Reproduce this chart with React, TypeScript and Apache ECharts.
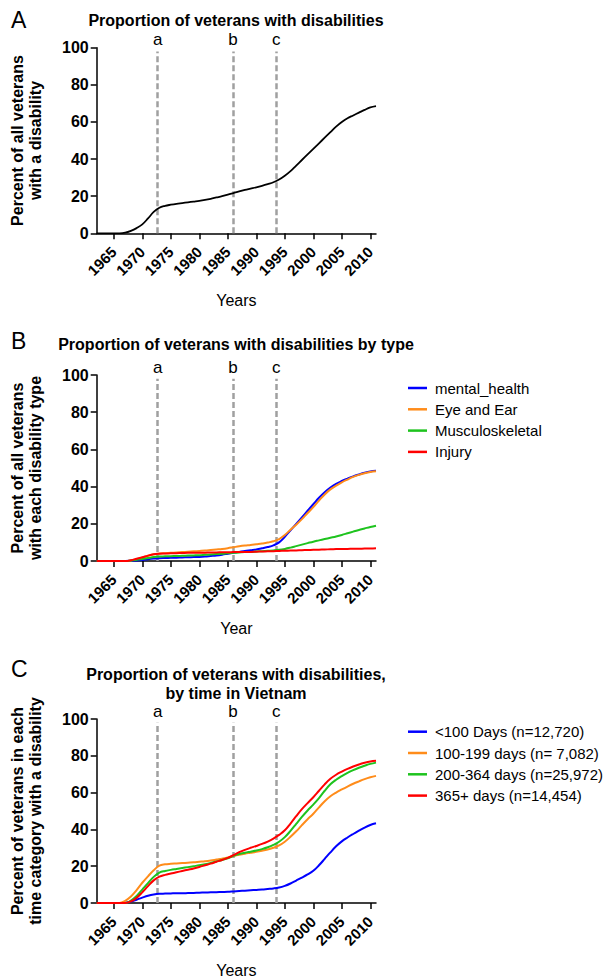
import React, { useEffect, useRef } from "react";
import * as echarts from "echarts";

const YEARS = [
  1962, 1963, 1964, 1965, 1966, 1967, 1968, 1969, 1970, 1971,
  1972, 1973, 1974, 1975, 1976, 1977, 1978, 1979, 1980, 1981,
  1982, 1983, 1984, 1985, 1986, 1987, 1988, 1989, 1990, 1991,
  1992, 1993, 1994, 1995, 1996, 1997, 1998, 1999, 2000, 2001,
  2002, 2003, 2004, 2005, 2006, 2007, 2008, 2009, 2010, 2011,
];
const TICK_YEARS = [1965, 1970, 1975, 1980, 1985, 1990, 1995, 2000, 2005, 2010];
const EVENT_YEARS = [1972.7, 1985.9, 1993.5];
const EVENT_LABELS = ["a", "b", "c"];

// Panel A
const ALL_VETERANS = [
  0, 0, 0, 0, 0, 0.3, 1.3, 2.8, 4.8, 8,
  11.5, 13.8, 14.8, 15.4, 15.9, 16.3, 16.7, 17.1, 17.5, 18,
  18.6, 19.3, 20, 20.8, 21.7, 22.6, 23.4, 24.1, 24.8, 25.6,
  26.5, 27.5, 29, 31, 33.5, 36.5, 39.5, 42.5, 45.5, 48.5,
  51.5, 54.5, 57.5, 60, 62, 63.5, 65, 66.5, 67.8, 68.5,
];

// Panel B
const B_NAMES = ["mental_health", "Eye and Ear", "Musculoskeletal", "Injury"];
const MENTAL = [
  0, 0, 0, 0, 0, 0, 0.1, 0.3, 0.6, 1.0,
  1.3, 1.5, 1.6, 1.7, 1.8, 1.9, 2.0, 2.1, 2.2, 2.4,
  2.7, 3.0, 3.4, 3.9, 4.4, 4.9, 5.4, 5.8, 6.2, 6.8,
  7.5, 8.4, 10, 13, 16.5, 20, 23.5, 27, 30.5, 34,
  37, 39.5, 41.5, 43, 44.3, 45.5, 46.5, 47.4, 48.1, 48.5,
];
const EYE_EAR = [
  0, 0, 0, 0, 0, 0, 0.3, 1.0, 1.8, 2.8,
  3.6, 4.0, 4.2, 4.4, 4.6, 4.8, 5.0, 5.2, 5.4, 5.6,
  5.9, 6.2, 6.5, 6.9, 7.4, 7.9, 8.3, 8.6, 9.0, 9.4,
  9.9, 10.6, 11.8, 14, 16.8, 19.5, 22.5, 25.8, 29, 32.5,
  35.8, 38.5, 40.5, 42.3, 43.8, 45.2, 46.3, 47.2, 47.9, 48.3,
];
const MUSCULO = [
  0, 0, 0, 0, 0, 0, 0.2, 0.6, 1.1, 1.6,
  2.1, 2.4, 2.5, 2.6, 2.7, 2.8, 2.9, 3.0, 3.1, 3.3,
  3.5, 3.7, 3.9, 4.2, 4.4, 4.6, 4.8, 4.9, 5.1, 5.3,
  5.5, 5.7, 6.0, 6.5, 7.2, 8.0, 8.8, 9.6, 10.4, 11.1,
  11.8, 12.5, 13.2, 14.0, 14.9, 15.8, 16.7, 17.5, 18.3, 19.0,
];
const INJURY = [
  0, 0, 0, 0, 0, 0, 0.4, 1.2, 2.0, 2.9,
  3.6, 3.9, 4.0, 4.1, 4.2, 4.3, 4.4, 4.4, 4.5, 4.5,
  4.6, 4.6, 4.7, 4.7, 4.8, 4.8, 4.9, 4.9, 5.0, 5.1,
  5.2, 5.3, 5.4, 5.5, 5.6, 5.7, 5.8, 5.9, 6.0, 6.1,
  6.2, 6.3, 6.4, 6.5, 6.5, 6.6, 6.6, 6.7, 6.7, 6.8,
];

// Panel C
const C_NAMES = [
  "<100 Days (n=12,720)",
  "100-199 days (n= 7,082)",
  "200-364 days (n=25,972)",
  "365+ days (n=14,454)",
];
const LT100 = [
  0, 0, 0, 0, 0, 0.2, 0.8, 1.8, 2.9, 3.9,
  4.6, 5.0, 5.1, 5.2, 5.3, 5.3, 5.4, 5.5, 5.6, 5.7,
  5.8, 5.9, 6.0, 6.1, 6.3, 6.5, 6.7, 6.9, 7.1, 7.3,
  7.6, 7.9, 8.4, 9.3, 10.6, 12.2, 13.8, 15.5, 17.5, 20.5,
  24, 27.5, 30.8, 33.5, 35.6, 37.5, 39.3, 41, 42.4, 43.3,
];
const D100_199 = [
  0, 0, 0, 0, 0, 1.2, 3.5, 7, 11, 14.5,
  17.8, 20.3, 21, 21.3, 21.5, 21.7, 21.9, 22.1, 22.4, 22.7,
  23.1, 23.6, 24.1, 24.7, 25.5, 26.2, 26.8, 27.3, 27.8, 28.4,
  29.1, 30.0, 31.3, 33.3, 36, 39, 42.3, 45.5, 48.5, 52,
  55.3, 58, 60, 61.7, 63.3, 64.8, 66.1, 67.3, 68.3, 69.1,
];
const D200_364 = [
  0, 0, 0, 0, 0, 0, 1.3, 3.8, 7.3, 10.8,
  14.2, 16.5, 17.4, 18.0, 18.5, 19.0, 19.5, 20.0, 20.5, 21.1,
  21.8, 22.6, 23.4, 24.3, 25.6, 26.6, 27.3, 27.9, 28.5, 29.3,
  30.3, 31.6, 33.3, 35.8, 39.2, 43, 46.8, 50.3, 53.5, 57,
  61, 64.5, 67, 69, 70.7, 72.2, 73.5, 74.6, 75.6, 76.3,
];
const D365 = [
  0, 0, 0, 0, 0, 0, 0.9, 2.8, 5.8, 9.2,
  12.3, 14.3, 15.3, 16.0, 16.7, 17.4, 18.1, 18.8, 19.6, 20.5,
  21.4, 22.4, 23.4, 24.5, 26.0, 27.6, 28.9, 30.0, 31.0, 32.1,
  33.4, 35.0, 37.0, 39.5, 43.2, 47.2, 51, 54.3, 57.5, 61,
  64.5, 67.5, 69.7, 71.4, 72.9, 74.2, 75.3, 76.2, 76.9, 77.3,
];

const COLORS = ["#0000ff", "#ff8c1a", "#1ec31e", "#ff0000"];
const FONT = "Liberation Sans, Arial, Helvetica, sans-serif";

const pairs = (vals: number[]) => YEARS.map((y, i) => [y, vals[i]]);

export default function App() {
  const ref = useRef<HTMLDivElement>(null);

  useEffect(() => {
    document.body.style.margin = "0";
    if (!ref.current) return;
    const chart = echarts.init(ref.current, undefined, { renderer: "svg" });

    const grids = [
      { left: 96.7, top: 47.7, width: 279.3, height: 185.6 },
      { left: 96.7, top: 375, width: 279.3, height: 186 },
      { left: 96.7, top: 719, width: 279.3, height: 186 },
    ];
    const xNames = ["Years", "Year", "Years"];
    const yNames = [
      "Percent of all veterans\nwith a disability",
      "Percent of all veterans\nwith each disability type",
      "Percent of veterans in each\ntime category with a disability",
    ];

    const xAxis = grids.map((_, i) => ({
      type: "value",
      gridIndex: i,
      min: 1962,
      max: 2011,
      splitLine: { show: false },
      axisLine: { show: true, onZero: false, lineStyle: { color: "#000", width: 1.5 } },
      axisTick: {
        show: true,
        customValues: TICK_YEARS,
        length: 6,
        lineStyle: { color: "#000", width: 1.5 },
      },
      axisLabel: {
        customValues: TICK_YEARS,
        formatter: (v: number) => String(v),
        rotate: 45,
        margin: 16,
        color: "#000",
        fontFamily: FONT,
        fontWeight: "bold",
        fontSize: 15,
      },
      name: xNames[i],
      nameLocation: "middle",
      nameGap: 59,
      nameTextStyle: { color: "#000", fontFamily: FONT, fontSize: 16 },
    }));

    const yAxis = grids.map((_, i) => ({
      type: "value",
      gridIndex: i,
      min: 0,
      max: 100,
      interval: 20,
      splitLine: { show: false },
      axisLine: { show: true, lineStyle: { color: "#000", width: 1.5 } },
      axisTick: { show: true, length: 6, lineStyle: { color: "#000", width: 1.5 } },
      axisLabel: {
        margin: 8,
        color: "#000",
        fontFamily: FONT,
        fontWeight: "bold",
        fontSize: 16,
      },
      name: yNames[i],
      nameLocation: "middle",
      nameRotate: 90,
      nameGap: 52,
      nameTextStyle: {
        color: "#000",
        fontFamily: FONT,
        fontWeight: "bold",
        fontSize: 16,
        lineHeight: 18,
      },
    }));

    const markLine = {
      silent: true,
      z: 1,
      symbol: ["none", "none"],
      lineStyle: { color: "#a0a0a0", width: 2.5, type: [6, 3] },
      label: {
        show: true,
        position: "end",
        distance: 3,
        color: "#000",
        fontFamily: FONT,
        fontSize: 17,
      },
      data: EVENT_YEARS.map((x, i) => [
        { coord: [x, 0] },
        { coord: [x, 98], label: { formatter: EVENT_LABELS[i] } },
      ]),
    };

    const lineSeries = (name: string, vals: number[], color: string, idx: number, withMark: boolean) => ({
      type: "line",
      name,
      xAxisIndex: idx,
      yAxisIndex: idx,
      data: pairs(vals),
      showSymbol: false,
      symbol: "none",
      smooth: 0.4,
      lineStyle: { color, width: idx === 0 ? 1.8 : 2 },
      itemStyle: { color },
      z: 3,
      ...(withMark ? { markLine } : {}),
    });

    const series: any[] = [
      lineSeries("All veterans", ALL_VETERANS, "#000", 0, true),
      lineSeries(B_NAMES[0], MENTAL, COLORS[0], 1, true),
      lineSeries(B_NAMES[1], EYE_EAR, COLORS[1], 1, false),
      lineSeries(B_NAMES[2], MUSCULO, COLORS[2], 1, false),
      lineSeries(B_NAMES[3], INJURY, COLORS[3], 1, false),
      lineSeries(C_NAMES[0], LT100, COLORS[0], 2, true),
      lineSeries(C_NAMES[1], D100_199, COLORS[1], 2, false),
      lineSeries(C_NAMES[2], D200_364, COLORS[2], 2, false),
      lineSeries(C_NAMES[3], D365, COLORS[3], 2, false),
    ];

    const legendBase = {
      orient: "vertical",
      left: 408,
      icon: "rect",
      itemWidth: 19,
      itemHeight: 2.5,
      itemGap: 6.3,
      selectedMode: false,
      padding: 0,
      textStyle: {
        color: "#000",
        fontFamily: FONT,
        fontSize: 15,
        lineHeight: 15,
        padding: [0, 0, 0, 3],
      },
    };

    const titleStyle = { color: "#000", fontFamily: FONT, fontWeight: "bold", fontSize: 16, lineHeight: 19 };
    const letterStyle = { color: "#000", fontFamily: FONT, fontWeight: "normal", fontSize: 23, lineHeight: 23 };

    chart.setOption({
      animation: false,
      textStyle: { fontFamily: FONT },
      title: [
        { text: "A", left: 11, top: 8.7, padding: 0, textStyle: letterStyle },
        { text: "B", left: 11, top: 329.5, padding: 0, textStyle: letterStyle },
        { text: "C", left: 11, top: 657.7, padding: 0, textStyle: letterStyle },
        {
          text: "Proportion of veterans with disabilities",
          left: 236,
          top: 11.2,
          padding: 0,
          textAlign: "center",
          textStyle: titleStyle,
        },
        {
          text: "Proportion of veterans with disabilities by type",
          left: 236,
          top: 335,
          padding: 0,
          textAlign: "center",
          textStyle: titleStyle,
        },
        {
          text: "Proportion of veterans with disabilities,\nby time in Vietnam",
          left: 236,
          top: 664.9,
          padding: 0,
          textAlign: "center",
          textStyle: titleStyle,
        },
      ],
      legend: [
        { ...legendBase, data: B_NAMES, top: 380.5 },
        { ...legendBase, data: C_NAMES, top: 724.2 },
      ],
      grid: grids,
      xAxis,
      yAxis,
      series,
    });

    return () => chart.dispose();
  }, []);

  return <div ref={ref} style={{ width: 608, height: 979 }} />;
}
